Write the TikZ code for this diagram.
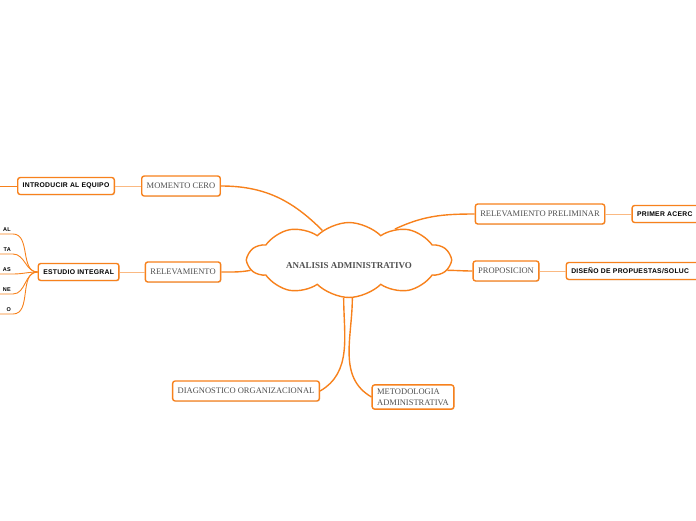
\documentclass[tikz,border=0pt]{standalone}
\usepackage{fontspec}
\setmainfont{Liberation Serif}
\newfontfamily\boldsans[LetterSpace=4]{Liberation Sans}
\usetikzlibrary{shapes.symbols,positioning,shadows}
\definecolor{mmorange}{RGB}{247,129,28}
\definecolor{mmlight}{RGB}{250,185,130}
\definecolor{mmtext}{RGB}{80,80,80}

\begin{document}
\begin{tikzpicture}[
	x=1pt, y=1pt,
	central/.style = {cloud, cloud puffs=10, cloud puff arc=90, aspect=3.5, draw=mmorange, line width=1.4pt, fill=white, minimum width=202pt, minimum height=50pt, text height=18pt, text depth=1pt, font=\bfseries\fontsize{9}{10}\selectfont, text=mmtext},
	topic/.style = {draw=mmorange, line width=1.4pt, rounded corners=2.5pt, fill=white, drop shadow={opacity=0.2, shadow xshift=0.8pt, shadow yshift=-0.8pt}, font=\fontsize{8.5}{10.5}\selectfont, text=mmtext, inner xsep=5pt, minimum height=20pt},
	subtopic/.style = {draw=mmorange, line width=1.4pt, rounded corners=2.5pt, fill=white, drop shadow={opacity=0.2, shadow xshift=0.8pt, shadow yshift=-0.8pt}, font=\boldsans\bfseries\fontsize{6.8}{8}\selectfont, inner xsep=5pt, minimum height=17pt},
	leaf/.style = {font=\boldsans\bfseries\fontsize{5.5}{6}\selectfont, inner sep=2pt, anchor=south east},
	link/.style = {draw=mmorange, line width=1.4pt},
	sublink/.style = {draw=mmlight, line width=0.9pt},
	leaflink/.style = {draw=mmorange, line width=0.9pt}]

	\useasboundingbox (0,0) rectangle (696,-520);

	% central topic
	\node[central] (cl) at (349,-260) {ANALISIS ADMINISTRATIVO};

	% main topics around the cloud
	\node[topic] (c1) at (181,-186) {MOMENTO CERO};
	\node[topic] (c2) at (183,-272) {RELEVAMIENTO};
	\node[topic] (c3) at (540,-214) {RELEVAMIENTO PRELIMINAR};
	\node[topic] (c4) at (506,-271) {PROPOSICION};
	\node[topic] (c5) at (246,-391) {DIAGNOSTICO ORGANIZACIONAL};
	\node[topic, align=left, inner ysep=4pt] (c6) at (413,-397) {METODOLOGIA\\ADMINISTRATIVA};

	% subtopics, relatively positioned
	\node[subtopic, left=26pt of c1] (c11) {INTRODUCIR AL EQUIPO};
	\node[subtopic, left=25pt of c2] (c21) {ESTUDIO INTEGRAL};
	\node[subtopic, right=26pt of c3, text width=80pt] (c31) {PRIMER ACERC};
	\node[subtopic, right=26pt of c4, text width=150pt] (c41) {DISEÑO DE PROPUESTAS/SOLUC};

	% leaves of the second subtopic, cut by the left edge
	\foreach \txt [count=\i] in {AL,TA,AS,NE,O}
		\node[leaf] (c21\i) at (13,{-214-20*\i}) {\txt};
	\coordinate (c11end) at (0,-186);

	% lines from the cloud to the main topics
	\draw[link] (c1.east) to[out=0,in=135] (cl.132);
	\draw[link] (c2.east) to[out=0,in=190] (cl.186);
	\draw[link] (cl.34) to[out=25,in=180] (c3.west);
	\draw[link] (cl.-6) to[out=0,in=180] (c4.west);
	\draw[link] (cl.-98) to[out=-90,in=30] (c5.east);
	\draw[link] (cl.-85) to[out=-90,in=150] (c6.west);

	% lines from each main topic to its subtopic
	\draw[sublink] (c1.west) -- (c11.east);
	\draw[sublink] (c2.west) -- (c21.east);
	\draw[sublink] (c3.east) -- (c31.west);
	\draw[sublink] (c4.east) -- (c41.west);
	\draw[leaflink] (c11.west) -- (c11end);
	\foreach \i in {1,...,5}
		\draw[leaflink] (c21.west) to[out=180,in=0] (c21\i.south east) -- ++(-20,0);

\end{tikzpicture}
\end{document}
